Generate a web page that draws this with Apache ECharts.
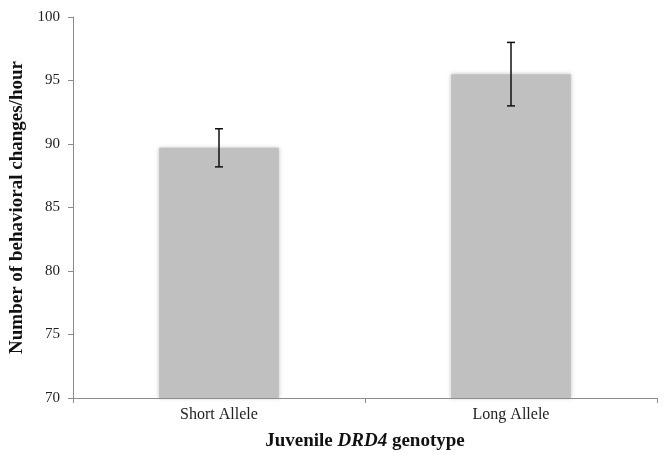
<!DOCTYPE html>
<html><head><meta charset="utf-8">
<script src="https://cdn.jsdelivr.net/npm/echarts@6/dist/echarts.min.js"></script>
<style>html,body{margin:0;padding:0;background:#fff}#c{width:664px;height:455px}</style>
</head><body><div id="c"></div>
<script>
const categories = ['Short Allele', 'Long Allele'];
const means = [89.7, 95.5];
const errors = [1.5, 2.5];
const yTicks = [70, 75, 80, 85, 90, 95, 100];

const chart = echarts.init(document.getElementById('c'), null, {renderer: 'canvas'});
const font = 'Liberation Serif';
chart.setOption({
  animation: false,
  backgroundColor: '#fff',
  grid: {left: 73, right: 7, top: 17, bottom: 57, containLabel: false, outerBoundsMode: 'none'},
  xAxis: {
    type: 'category', data: categories,
    axisLine: {lineStyle: {color: '#8c8c8c', width: 1}},
    axisTick: {show: true, length: 5, lineStyle: {color: '#8c8c8c'}},
    axisLabel: {color: '#222', fontFamily: font, fontSize: 16, margin: 9},
    name: '{b|Juvenile }{bi|DRD4}{b| genotype}',
    nameLocation: 'middle', nameGap: 34,
    nameTextStyle: {
      rich: {
        b: {fontFamily: font, fontSize: 19, fontWeight: 'bold', color: '#111'},
        bi: {fontFamily: font, fontSize: 19, fontWeight: 'bold', fontStyle: 'italic', color: '#111'}
      }
    }
  },
  yAxis: {
    type: 'value', min: yTicks[0], max: yTicks[yTicks.length - 1], interval: 5,
    splitLine: {show: false},
    axisLine: {show: true, lineStyle: {color: '#8c8c8c', width: 1}},
    axisTick: {show: true, length: 5, lineStyle: {color: '#8c8c8c'}},
    axisLabel: {color: '#222', fontFamily: font, fontSize: 15, margin: 13},
    name: 'Number of behavioral changes/hour',
    nameLocation: 'middle', nameGap: 43,
    nameTextStyle: {fontFamily: font, fontSize: 19, fontWeight: 'bold', color: '#111'}
  },
  series: [{
    type: 'bar', data: means, barWidth: '41%',
    itemStyle: {color: '#c0c0c0', shadowBlur: 4, shadowColor: 'rgba(150,150,150,0.6)'}
  }, {
    type: 'custom',
    data: means.map((m, i) => [i, m - errors[i], m + errors[i]]),
    renderItem: function (params, api) {
      const lo = api.coord([api.value(0), api.value(1)]);
      const hi = api.coord([api.value(0), api.value(2)]);
      const w = 4;
      const st = {stroke: '#111', lineWidth: 1.5};
      return {type: 'group', children: [
        {type: 'line', shape: {x1: hi[0], y1: hi[1], x2: lo[0], y2: lo[1]}, style: st},
        {type: 'line', shape: {x1: hi[0] - w, y1: hi[1], x2: hi[0] + w, y2: hi[1]}, style: st},
        {type: 'line', shape: {x1: lo[0] - w, y1: lo[1], x2: lo[0] + w, y2: lo[1]}, style: st}
      ]};
    },
    z: 10
  }]
});
</script></body></html>
